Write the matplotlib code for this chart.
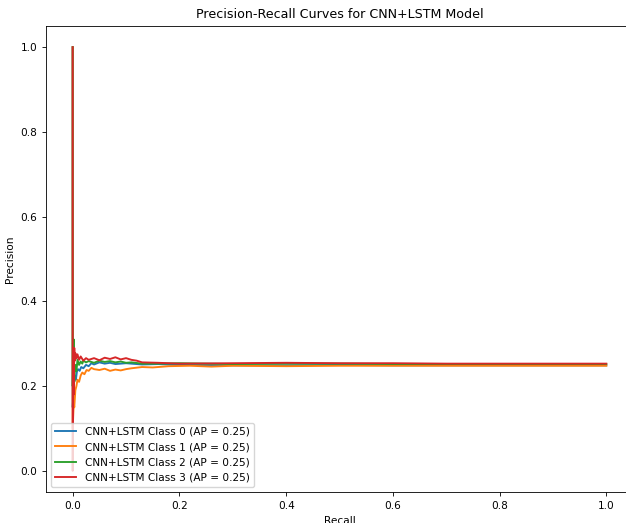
import matplotlib
matplotlib.use("Agg")
import matplotlib.pyplot as plt

# precision-recall points (recall, precision per class)
recall0 = [0.0, 0.0, 0.002, 0.004, 0.006, 0.008, 0.01, 0.013, 0.016, 0.02, 0.025, 0.03, 0.035, 0.04,
           0.05, 0.06, 0.07, 0.08, 0.1, 0.13, 0.16, 0.2, 0.3, 0.4, 0.5, 0.6, 0.7, 0.8, 0.9, 1.0]
precision0 = [1.0, 0.15, 0.2, 0.225, 0.215, 0.235, 0.24, 0.236, 0.245, 0.242, 0.25, 0.247, 0.254, 0.251,
              0.256, 0.253, 0.255, 0.252, 0.254, 0.251, 0.252, 0.25, 0.249, 0.249, 0.25, 0.249, 0.249,
              0.249, 0.249, 0.249]

recall1 = [0.0, 0.0, 0.001, 0.002, 0.003, 0.005, 0.007, 0.009, 0.012, 0.015, 0.018, 0.022, 0.026, 0.03,
           0.035, 0.04, 0.05, 0.06, 0.07, 0.08, 0.09, 0.1, 0.11, 0.13, 0.15, 0.18, 0.22, 0.26, 0.3,
           0.4, 0.5, 0.6, 0.7, 0.8, 0.9, 1.0]
precision1 = [1.0, 0.1, 0.13, 0.16, 0.15, 0.19, 0.2, 0.215, 0.21, 0.225, 0.232, 0.228, 0.238, 0.236,
              0.243, 0.24, 0.238, 0.241, 0.236, 0.239, 0.237, 0.24, 0.242, 0.245, 0.244, 0.247, 0.248,
              0.246, 0.248, 0.247, 0.248, 0.248, 0.248, 0.248, 0.248, 0.248]

recall2 = [0.0, 0.0, 0.001, 0.002, 0.003, 0.004, 0.005, 0.007, 0.009, 0.012, 0.015, 0.018, 0.02, 0.025,
           0.03, 0.04, 0.05, 0.06, 0.07, 0.08, 0.09, 0.1, 0.11, 0.13, 0.16, 0.2, 0.3, 0.4, 0.5, 0.6,
           0.7, 0.8, 0.9, 1.0]
precision2 = [1.0, 0.2, 0.27, 0.31, 0.21, 0.24, 0.25, 0.235, 0.262, 0.25, 0.258, 0.253, 0.26, 0.256,
              0.259, 0.255, 0.26, 0.257, 0.259, 0.256, 0.258, 0.255, 0.256, 0.253, 0.253, 0.254, 0.252,
              0.253, 0.253, 0.252, 0.252, 0.252, 0.252, 0.252]

recall3 = [0.0, 0.0, 0.001, 0.002, 0.003, 0.004, 0.005, 0.007, 0.009, 0.012, 0.015, 0.02, 0.025, 0.03,
           0.04, 0.05, 0.06, 0.07, 0.08, 0.09, 0.1, 0.11, 0.12, 0.13, 0.16, 0.2, 0.3, 0.4, 0.5, 0.6,
           0.7, 0.8, 0.9, 1.0]
precision3 = [1.0, 0.0, 0.28, 0.18, 0.29, 0.26, 0.278, 0.265, 0.275, 0.262, 0.27, 0.26, 0.266, 0.262,
              0.266, 0.261, 0.267, 0.264, 0.268, 0.263, 0.266, 0.262, 0.26, 0.256, 0.255, 0.253, 0.254,
              0.255, 0.254, 0.254, 0.253, 0.253, 0.253, 0.253]

ap_scores = [0.25, 0.25, 0.25, 0.25]
curves = [(recall0, precision0), (recall1, precision1), (recall2, precision2), (recall3, precision3)]

s = 0.757  # scale from the original 10x8 figure
plt.rcParams['font.size'] = 10 * s
plt.rcParams['axes.linewidth'] = 0.8 * s
plt.rcParams['xtick.major.width'] = 0.8 * s
plt.rcParams['ytick.major.width'] = 0.8 * s
plt.rcParams['xtick.major.size'] = 3.5 * s
plt.rcParams['ytick.major.size'] = 3.5 * s

fig = plt.figure(figsize=(6.26, 5.23), dpi=100)
ax = fig.add_axes([46 / 626, 1 - 492 / 523, 587 / 626, 466 / 523])

for i, (r, p) in enumerate(curves):
    ax.plot(r, p, linewidth=1.8 * s, label=f"CNN+LSTM Class {i} (AP = {ap_scores[i]:.2f})")

ax.set_xlim(-0.05, 1.05)
ax.set_ylim(-0.05, 1.05)
ax.set_xlabel("Recall")
ax.set_ylabel("Precision")
ax.set_title("Precision-Recall Curves for CNN+LSTM Model", fontsize=12 * s)
ax.legend(loc="lower left")
# the original screenshot cuts the plot just before the right edge of the axes
ax.spines['right'].set_visible(False)

fig.savefig("out.png", dpi=100)
